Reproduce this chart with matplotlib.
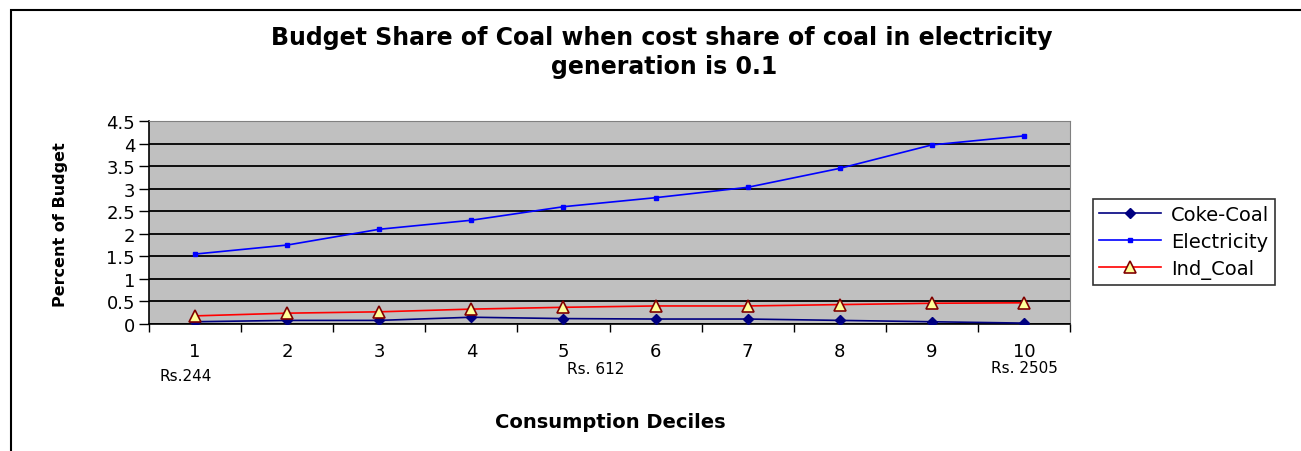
import matplotlib.pyplot as plt
from matplotlib.patches import Rectangle

# data
deciles = ['1', '2', '3', '4', '5', '6', '7', '8', '9', '10']
coke_coal = [0.05, 0.08, 0.08, 0.15, 0.12, 0.11, 0.11, 0.08, 0.05, 0.02]
electricity = [1.55, 1.75, 2.10, 2.30, 2.60, 2.80, 3.03, 3.45, 3.97, 4.17]
ind_coal = [0.18, 0.24, 0.27, 0.33, 0.37, 0.40, 0.40, 0.43, 0.46, 0.47]
rs_labels = ['Rs.244', 'Rs. 612', 'Rs. 2505']
rs_pos = [0.9, 5.35, 10.0]

W, H = 1301, 452
fig = plt.figure(figsize=(W / 100, H / 100), dpi=100)

# outer chart frame (runs off the right and bottom edges)
fig.patches.append(Rectangle((11 / W, -0.1), 1.2, 1 - 11 / H + 0.1,
                             transform=fig.transFigure, fill=False,
                             edgecolor='black', linewidth=1.5))

ax = fig.add_axes([149 / W, 1 - 325 / H, (1070 - 149) / W, (325 - 122) / H])
ax.set_facecolor('#C0C0C0')

x = list(range(1, len(deciles) + 1))
ax.plot(x, coke_coal, color='#000080', marker='D', markersize=5, lw=1.2,
        label='Coke-Coal', zorder=3)
ax.plot(x, electricity, color='#0000FF', marker='s', markersize=3, lw=1.2,
        label='Electricity', zorder=3)
ax.plot(x, ind_coal, color='#FF0000', marker='^', markersize=8, lw=1.2,
        markerfacecolor='#FFFF99', markeredgecolor='#800000',
        markeredgewidth=1.2, label='Ind_Coal', zorder=4)

ax.set_xlim(0.5, len(deciles) + 0.5)
ax.set_ylim(0, 4.5)
ax.set_yticks([i * 0.5 for i in range(10)])
ax.set_yticklabels(['0', '0.5', '1', '1.5', '2', '2.5', '3', '3.5', '4', '4.5'])
ax.yaxis.grid(True, color='black', lw=1.3)
ax.set_axisbelow(True)

# ticks at category boundaries, labels at centres
ax.set_xticks([i + 0.5 for i in range(len(deciles) + 1)])
ax.set_xticklabels([])
ax.set_xticks(x, minor=True)
ax.set_xticklabels(deciles, minor=True)
ax.tick_params(axis='x', which='major', direction='out', length=6, width=1)
ax.tick_params(axis='x', which='minor', length=0, pad=13, labelsize=13)
ax.tick_params(axis='y', direction='out', length=7, width=1, labelsize=13, pad=3)

for s in ['top', 'right']:
    ax.spines[s].set_color('#808080')
for s in ['left', 'bottom']:
    ax.spines[s].set_color('black')
    ax.spines[s].set_linewidth(1.2)

rs_y = [-0.256, -0.217, -0.212]
for lab, px, py in zip(rs_labels, rs_pos, rs_y):
    ax.text(px, py, lab, transform=ax.get_xaxis_transform(),
            ha='center', va='center', fontsize=11)

fig.text(662 / W, 1 - 38 / H, 'Budget Share of Coal when cost share of coal in electricity',
         ha='center', va='center', fontsize=17, fontweight='bold')
fig.text(664 / W, 1 - 67 / H, 'generation is 0.1',
         ha='center', va='center', fontsize=17, fontweight='bold')
fig.text(610 / W, 1 - 423 / H, 'Consumption Deciles',
         ha='center', va='center', fontsize=14, fontweight='bold')
fig.text(60 / W, 1 - 225 / H, 'Percent of Budget', rotation=90,
         ha='center', va='center', fontsize=11.5, fontweight='bold')

leg = ax.legend(loc='center left', bbox_to_anchor=(1093 / W, 1 - 243 / H),
                bbox_transform=fig.transFigure, fontsize=14, frameon=True,
                fancybox=False, edgecolor='black', handlelength=3.2,
                borderpad=0.3, labelspacing=0.42, borderaxespad=0,
                handletextpad=0.5)
leg.get_frame().set_linewidth(1.2)

fig.savefig('out.png', dpi=100)
